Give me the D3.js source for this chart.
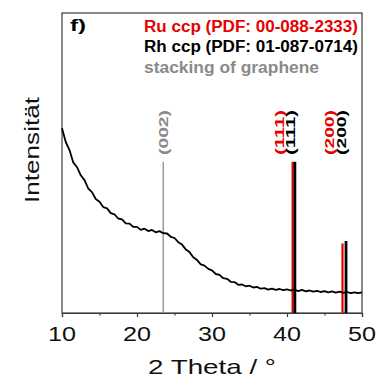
<!DOCTYPE html>
<html><head><meta charset="utf-8">
<script src="https://cdn.jsdelivr.net/npm/d3@7"></script>
<style>html,body{margin:0;padding:0;background:#fff;}svg{display:block;font-family:"Liberation Sans",Arial,sans-serif;}</style>
</head><body>
<svg id="c" width="381" height="378"></svg>
<script>
// measured pattern: 2theta (deg) and intensity (a.u.)
const twoTheta = [10.0,10.5,11.0,11.5,12.0,12.5,13.0,13.5,14.0,14.5,15.0,15.5,16.0,16.5,17.0,17.5,18.0,18.5,19.0,19.5,20.0,20.5,21.0,21.5,22.0,22.5,23.0,23.5,24.0,24.5,25.0,25.5,26.0,26.5,27.0,27.5,28.0,28.5,29.0,29.5,30.0,30.5,31.0,31.5,32.0,32.5,33.0,33.5,34.0,34.5,35.0,35.5,36.0,36.5,37.0,37.5,38.0,38.5,39.0,39.5,40.0,40.5,41.0,41.5,42.0,42.5,43.0,43.5,44.0,44.5,45.0,45.5,46.0,46.5,47.0,47.5,48.0,48.5,49.0,49.5,50.0];
const intensity = [61.6,57.0,54.3,50.2,48.6,45.9,44.3,41.5,40.3,38.0,37.1,35.3,34.9,33.3,32.9,31.5,31.2,29.9,29.8,28.7,28.7,27.7,28.1,27.3,27.7,26.9,27.3,26.6,26.5,25.4,25.0,23.6,22.8,21.2,20.3,18.6,17.7,16.2,15.8,14.7,14.2,13.0,12.7,11.6,11.4,10.4,10.3,9.4,9.5,8.9,9.1,8.5,8.7,8.1,8.3,7.8,8.1,7.7,8.0,7.6,7.9,7.5,7.8,7.3,7.7,7.2,7.5,7.1,7.4,7.0,7.3,6.9,7.2,6.8,7.1,6.7,7.0,6.6,6.9,6.6,6.9];

// reference sticks
const graphenePos = [23.5], grapheneInt = [50.4], grapheneHkl = ["(002)"];
const ruPos = [40.75, 47.4], ruInt = [50.4, 23.2], ruHkl = ["(111)", "(200)"];
const rhPos = [41.05, 47.87], rhInt = [50.4, 24.0], rhHkl = ["(111)", "(200)"];

const xTicks = [10, 20, 30, 40, 50];
const xMinorTicks = [15, 25, 35, 45];
const legendLabels = ["Ru ccp (PDF: 00-088-2333)", "Rh ccp (PDF: 01-087-0714)", "stacking of graphene"];
const panelLabel = "f)";
const xTitle = "2 Theta / °";
const yTitle = "Intensität";

const RED = "#e60000", GREY = "#8a8a8a", BLACK = "#000";
const L = 62, R = 362, T = 13, B = 313;
const svg = d3.select("#c");
const x = d3.scaleLinear().domain([10, 50]).range([L, R]);
const y = d3.scaleLinear().domain([0, 100]).range([B, T]);

// frame
svg.append("rect").attr("x", L).attr("y", T).attr("width", R - L).attr("height", B - T)
  .attr("fill", "none").attr("stroke", "#3a3a3a").attr("stroke-width", 1.2);

// sticks
function sticks(pos, ints, color, w) {
  svg.append("g").selectAll("line").data(pos).join("line")
    .attr("x1", d => x(d)).attr("x2", d => x(d))
    .attr("y1", y(0)).attr("y2", (d, i) => y(ints[i]))
    .attr("stroke", color).attr("stroke-width", w);
}
sticks(graphenePos, grapheneInt, "#9a9a9a", 1.5);
sticks(ruPos, ruInt, RED, 2.2);
sticks(rhPos, rhInt, BLACK, 2.8);

// curve
const pts = twoTheta.map((t, i) => [t, intensity[i]]);
svg.append("path").datum(pts)
  .attr("d", d3.line().x(d => x(d[0])).y(d => y(d[1])))
  .attr("fill", "none").attr("stroke", "#000").attr("stroke-width", 1.8).attr("stroke-linejoin", "round");

// hkl labels (rotated)
function hkl(pos, labels, color, dx) {
  svg.append("g").selectAll("text").data(pos).join("text")
    .attr("transform", d => `translate(${x(d) + dx},155) rotate(-90)`)
    .attr("font-size", 13).attr("font-weight", "bold").attr("fill", color)
    .attr("textLength", 45).attr("lengthAdjust", "spacingAndGlyphs")
    .text((d, i) => labels[i]);
}
hkl(graphenePos, grapheneHkl, GREY, 5);
hkl(ruPos, ruHkl, RED, -8.5);
hkl(rhPos, rhHkl, BLACK, 0);

// x axis ticks
const ax = svg.append("g").attr("transform", `translate(0,${B})`)
  .call(d3.axisBottom(x).tickValues(xTicks).tickSize(4).tickFormat(""));
ax.select(".domain").attr("stroke", "#3a3a3a").attr("stroke-width", 1.2);
ax.selectAll(".tick line").attr("stroke", "#3a3a3a").attr("stroke-width", 1.2);
const axm = svg.append("g").attr("transform", `translate(0,${B})`)
  .call(d3.axisBottom(x).tickValues(xMinorTicks).tickSize(2.5).tickFormat(""));
axm.select(".domain").remove();
axm.selectAll(".tick line").attr("stroke", "#3a3a3a").attr("stroke-width", 1.2);

// tick labels
svg.append("g").selectAll("text").data(xTicks).join("text")
  .attr("x", d => x(d)).attr("y", 340.5).attr("text-anchor", "middle")
  .attr("font-size", 20.5).attr("fill", "#111")
  .attr("textLength", 28).attr("lengthAdjust", "spacingAndGlyphs")
  .text(d => d);

// axis titles
svg.append("text").attr("x", (L + R) / 2).attr("y", 374).attr("text-anchor", "middle")
  .attr("font-size", 21).attr("fill", "#111")
  .attr("textLength", 128).attr("lengthAdjust", "spacingAndGlyphs").text(xTitle);
svg.append("text").attr("transform", "translate(39,150) rotate(-90)").attr("text-anchor", "middle")
  .attr("font-size", 21).attr("fill", "#111")
  .attr("textLength", 106).attr("lengthAdjust", "spacingAndGlyphs").text(yTitle);

// panel label
svg.append("text").attr("x", 70).attr("y", 30.5).attr("font-size", 17).attr("font-weight", "bold")
  .attr("textLength", 16).attr("lengthAdjust", "spacingAndGlyphs").text(panelLabel);

// legend text
const legColors = [RED, BLACK, GREY];
const legY = [31.5, 51.5, 72.5];
const legLen = [214, 214, 175];
svg.append("g").selectAll("text").data(legendLabels).join("text")
  .attr("x", 144).attr("y", (d, i) => legY[i])
  .attr("font-size", 16).attr("font-weight", "bold")
  .attr("fill", (d, i) => legColors[i])
  .attr("textLength", (d, i) => legLen[i]).attr("lengthAdjust", "spacingAndGlyphs")
  .text(d => d);
</script>
</body></html>
